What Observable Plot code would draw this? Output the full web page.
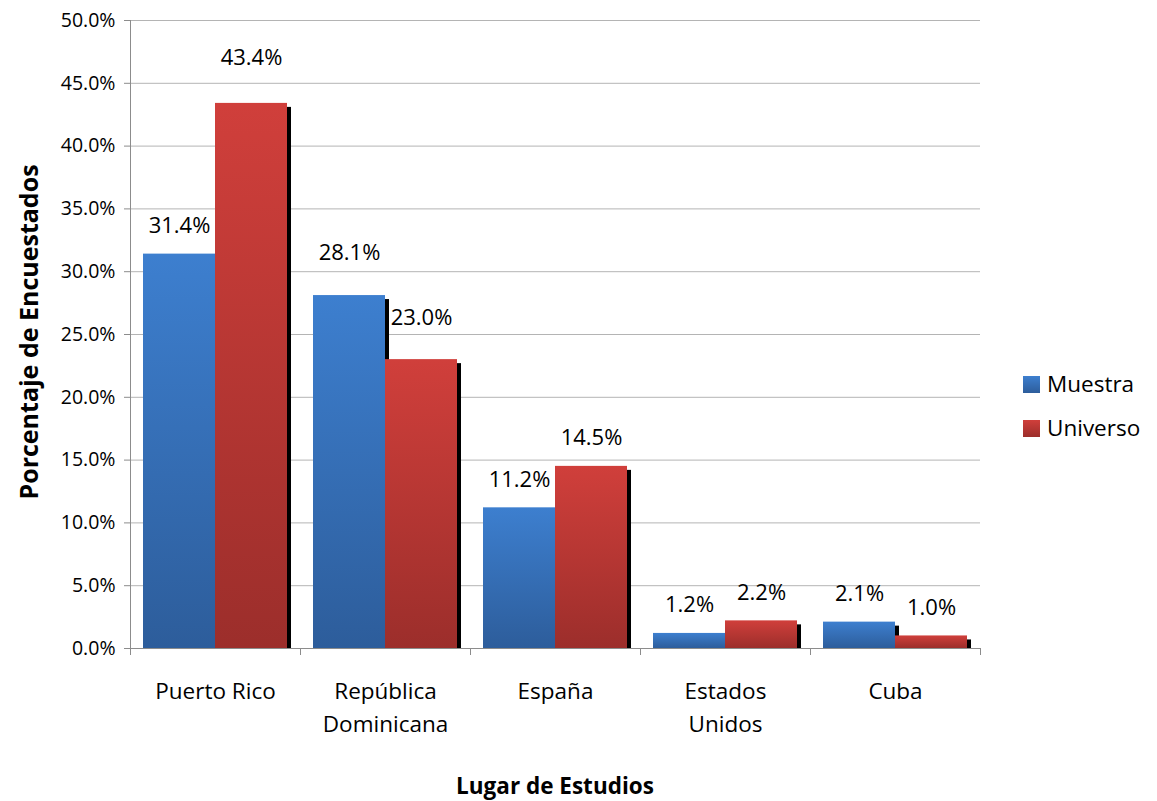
<!DOCTYPE html>
<html>
<head>
<meta charset="utf-8">
<script src="https://cdn.jsdelivr.net/npm/d3@7"></script>
<script src="https://cdn.jsdelivr.net/npm/@observablehq/plot@0.6"></script>
<style>
  html, body { margin: 0; padding: 0; background: white; }
  #chart { width: 1157px; height: 801px; }
</style>
</head>
<body>
<div id="chart"></div>
<script>
// ---- data ----
const categories = ["Puerto Rico", "República Dominicana", "España", "Estados Unidos", "Cuba"];
const categoryLabels = ["Puerto Rico", "República\nDominicana", "España", "Estados\nUnidos", "Cuba"];
const series = ["Muestra", "Universo"];
const muestra = [0.314, 0.281, 0.112, 0.012, 0.021];
const universo = [0.434, 0.230, 0.145, 0.022, 0.010];
const yTicks = [0, 0.05, 0.10, 0.15, 0.20, 0.25, 0.30, 0.35, 0.40, 0.45, 0.50];
const yTitle = "Porcentaje de Encuestados";
const xTitle = "Lugar de Estudios";

// ---- table ----
const rows = [];
categories.forEach((c, i) => {
  rows.push({category: c, series: "Muestra", value: muestra[i]});
  rows.push({category: c, series: "Universo", value: universo[i]});
});

// manual label lifts (px above bar top), as in the original
const labelLift = {"Puerto Rico|Universo": 45, "República Dominicana|Muestra": 43, "República Dominicana|Universo": 42};
const defaultLift = 28;

const fmt = d3.format(".1%");
const font = "'Open Sans', sans-serif";

const marks = [
  Plot.ruleY(yTicks, {stroke: "#b4b4b4", strokeWidth: 1}),
  Plot.axisY(yTicks, {tickFormat: fmt, tickSize: 6, tickPadding: 9, stroke: "#8c8c8c", fill: "black", label: null, fontSize: 19.5})
];
series.forEach(s => {
  const sub = rows.filter(d => d.series === s);
  marks.push(Plot.barY(sub, {fx: "category", x: "series", y: "value", fill: "black", dx: 4, insetTop: 4}));
  marks.push(Plot.barY(sub, {fx: "category", x: "series", y: "value", fill: `url(#grad-${s})`}));
});
rows.forEach(d => {
  const lift = labelLift[d.category + "|" + d.series] ?? defaultLift;
  marks.push(Plot.text([d], {fx: "category", x: "series", y: "value", text: d => fmt(d.value), dy: -lift, fontSize: 22, fill: "black"}));
});
marks.push(Plot.text(categories, {fx: d => d, text: d => categoryLabels[categories.indexOf(d)], frameAnchor: "bottom", lineAnchor: "top", dy: 28, lineHeight: 1.43, fontSize: 22.5, fill: "black"}));

const chart = Plot.plot({
  width: 1157,
  height: 801,
  marginLeft: 128,
  marginRight: 176,
  marginTop: 20,
  marginBottom: 153,
  style: {fontFamily: font, fontSize: "19px", color: "black", background: "white"},
  fx: {domain: categories, padding: 0, axis: null, label: null},
  x: {domain: series, paddingInner: 0, paddingOuter: 0.18, axis: null},
  y: {domain: [0, 0.5], axis: null},
  marks
});
document.getElementById("chart").appendChild(chart);

// ---- gradients, axis lines, legend, titles ----
const svg = d3.select(chart);
const colors = {Muestra: ["#3d7fcf", "#2d5d9b"], Universo: ["#d03f3b", "#9c2e2b"]};
const defs = svg.insert("defs", ":first-child");
series.forEach(s => {
  const g = defs.append("linearGradient").attr("id", `grad-${s}`).attr("x1", 0).attr("y1", 0).attr("x2", 0).attr("y2", 1);
  g.append("stop").attr("offset", "0%").attr("stop-color", colors[s][0]);
  g.append("stop").attr("offset", "100%").attr("stop-color", colors[s][1]);
});

const fx = chart.scale("fx");
const ys = chart.scale("y");
const y0 = ys.apply(0), yTop = ys.apply(0.5);
const edges = categories.map(c => fx.apply(c));
edges.push(fx.apply(categories[categories.length - 1]) + fx.bandwidth);
const ax = svg.append("g").attr("stroke", "#8c8c8c").attr("shape-rendering", "crispEdges");
ax.append("line").attr("x1", edges[0] + 0.5).attr("x2", edges[0] + 0.5).attr("y1", yTop).attr("y2", y0 + 7);
edges.forEach(e => ax.append("line").attr("x1", Math.round(e) + 0.5).attr("x2", Math.round(e) + 0.5).attr("y1", y0).attr("y2", y0 + 7));
ax.append("line").attr("x1", edges[0]).attr("x2", edges[edges.length - 1]).attr("y1", y0 + 0.5).attr("y2", y0 + 0.5);

// legend
const lg = svg.append("g").attr("font-family", font).attr("font-size", 22.5).attr("text-anchor", "start");
series.forEach((s, i) => {
  const gy = 376 + i * 44;
  lg.append("rect").attr("x", 1023).attr("y", gy).attr("width", 17).attr("height", 17).attr("fill", `url(#grad-${s})`);
  lg.append("text").attr("x", 1047).attr("y", gy + 16).attr("fill", "black").text(s);
});

// axis titles
const plotMidX = (edges[0] + edges[edges.length - 1]) / 2;
svg.append("text").attr("x", plotMidX).attr("y", 794).attr("text-anchor", "middle")
  .attr("font-family", font).attr("font-weight", "bold").attr("font-size", 22.5).attr("fill", "black").text(xTitle);
svg.append("text").attr("transform", `translate(38, 332) rotate(-90)`).attr("text-anchor", "middle")
  .attr("font-family", font).attr("font-weight", "bold").attr("font-size", 25).attr("fill", "black").text(yTitle);
</script>
</body>
</html>
